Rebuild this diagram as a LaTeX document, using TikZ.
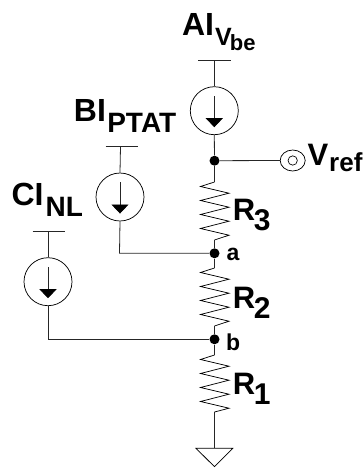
\documentclass[tikz,border=0pt]{standalone}
\usepackage{fontspec}
\setmainfont{Liberation Sans}[BoldFont={Liberation Sans Bold}]
\usetikzlibrary{arrows.meta,shapes.geometric}
\newlength{\pxu}\setlength{\pxu}{0.75pt}
\newcommand{\fsz}[1]{\fontsize{#1\pxu}{#1\pxu}\selectfont}
% main text, advance to subscript, drop, subscript text
\newcommand{\lbl}[5]{\fsz{#1}\makebox[#3\pxu][l]{#2}\raisebox{-#4\pxu}{\fsz{28}#5}}
\tikzset{
  x=0.75pt,y=-0.75pt,
  wire/.style={line width=0.6pt,draw=black!85},
  src/.style={circle,draw=black,line width=0.55pt,minimum size=36pt,inner sep=0pt},
  bar/.style={wire},
  junction/.style={circle,fill=black,inner sep=0pt,minimum size=7.5pt},
  txt/.style={anchor=base west,inner sep=0pt,outer sep=0pt,font=\bfseries},
  flow/.style={wire,-{Triangle[length=6.75pt,width=12.75pt,black]}},
  res/.style={line width=0.55pt,draw=black,line join=miter}
}
\newcommand{\zig}[2]{\draw[res] (#1) -- ++(-14,4.5) -- ++(28.5,6.7) -- ++(-28.5,7.3) -- ++(28.5,6.7) -- ++(-28.5,7.3) -- ++(28.5,6.7) -- ++(-28.5,7.3) -- ++(28.5,6.7) -- (#2);}
\newcommand{\isrc}[1]{\draw[flow] ([yshift=11pt]#1.center) -- ([yshift=-12.4pt]#1.center);}
\begin{document}
\begin{tikzpicture}
\useasboundingbox (0,0) rectangle (363,469);
% sources
\node[src] (ia) at (214.3,110.7) {};
\node[src] (ib) at (120,197) {};
\node[src] (ic) at (48,281.7) {};
% rails
\coordinate (ral) at (198,60); \coordinate (rar) at (230.7,60); \coordinate (ra) at (214.3,60);
\coordinate (rbl) at (105.7,146.7); \coordinate (rbr) at (138.3,146.7); \coordinate (rb) at (120.5,146.7);
\coordinate (rcl) at (32.5,231); \coordinate (rcr) at (65,231); \coordinate (rc) at (48,231);
\draw[bar] (ral) -- (rar); \draw[wire] (ra) -- (ia.north);
\draw[bar] (rbl) -- (rbr); \draw[wire] (rb) -- (ib.north);
\draw[bar] (rcl) -- (rcr); \draw[wire] (rc) -- (ic.north);
\isrc{ia}\isrc{ib}\isrc{ic}
% junctions
\node[junction] (top) at (214.5,160.7) {};
\node[junction] (a) at (214.5,253.3) {};
\node[junction] (b) at (214.5,339.3) {};
% output terminal
\node[draw=black,ellipse,line width=0.55pt,minimum width=18.75pt,minimum height=15.75pt,inner sep=0pt] (vo) at (292.7,160.5) {};
\node[draw=black,circle,line width=0.5pt,minimum size=7pt,inner sep=0pt] (vi) at (292.7,160.5) {};
\draw[wire] (ia.south) -- (top);
\draw[wire] (top) -- (vo.west);
% resistors
\coordinate (r3t) at (214.5,182); \coordinate (r3b) at (214.5,240);
\coordinate (r2t) at (214.5,268); \coordinate (r2b) at (214.5,326);
\coordinate (r1t) at (214.5,355); \coordinate (r1b) at (214.5,412);
\draw[wire] (top) -- (r3t); \zig{r3t}{r3b} \draw[wire] (r3b) -- (a);
\draw[wire] (a) -- (r2t); \zig{r2t}{r2b} \draw[wire] (r2b) -- (b);
\draw[wire] (b) -- (r1t); \zig{r1t}{r1b}
% side wires
\coordinate (ka) at (119.5,253.3); \coordinate (kb) at (48,339.3);
\draw[wire] (ib.south) -- (ka) -- (a);
\draw[wire] (ic.south) -- (kb) -- (b);
% ground
\coordinate (gnd) at (214.5,448.3);
\draw[wire] (r1b) -- (gnd);
\draw[line width=0.55pt,draw=black] (196,448.3) -- (232.7,448.3) -- (214.5,466.7) -- cycle;
% labels
\node[txt] (lA) at (182,35) {\fsz{32}\makebox[33\pxu][l]{AI}\raisebox{-10\pxu}{\fsz{25}\makebox[15\pxu][l]{V}\raisebox{-5\pxu}{\fsz{22}be}}};
\node[txt] (lB) at (74,121.7) {\lbl{32}{BI}{33.3}{10.6}{PTAT}};
\node[txt] (lC) at (11.5,205) {\lbl{32}{CI}{34.2}{11}{NL}};
\node[txt] (lV) at (307.7,165) {\lbl{31}{V}{21.5}{6.7}{\fsz{26}ref}};
\node[txt] (lR3) at (233,220) {\lbl{31}{R}{21}{10}{\fsz{30}3}};
\node[txt] (lR2) at (233,308) {\lbl{31}{R}{21}{10}{\fsz{30}2}};
\node[txt] (lR1) at (233,394) {\lbl{31}{R}{21}{10}{\fsz{30}1}};
\node[txt] (la) at (226.7,260.7) {\fsz{23}a};
\node[txt] (lb) at (226,350) {\fsz{23}b};
\end{tikzpicture}
\end{document}
